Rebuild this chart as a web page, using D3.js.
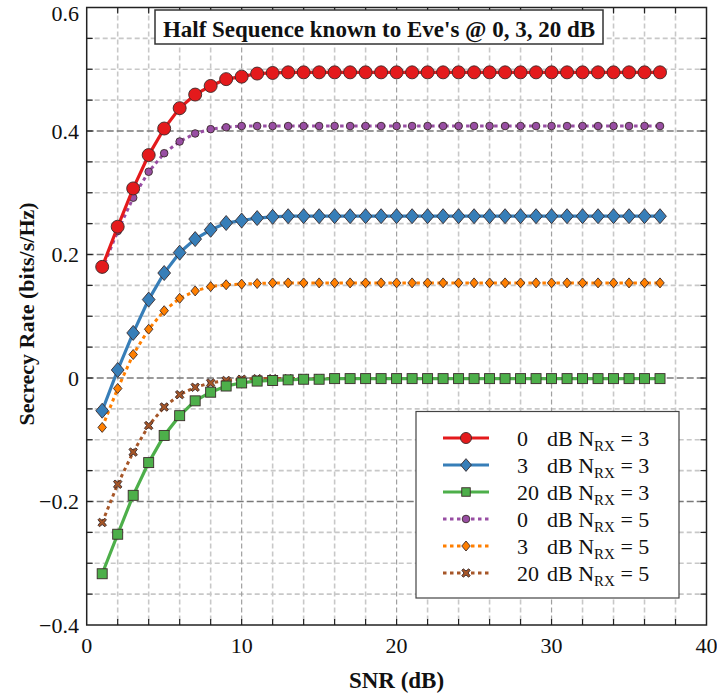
<!DOCTYPE html>
<html>
<head>
<meta charset="utf-8">
<script src="https://cdn.jsdelivr.net/npm/d3@7"></script>
<style>
  body { margin: 0; background: #fff; }
  text { font-family: "Liberation Serif", "Times New Roman", Times, "DejaVu Serif", serif; }
</style>
</head>
<body>
<div id="chart"></div>
<script>
// SNR points (dB)
const snr = d3.range(1, 38);

// tail values repeat once the curves level off
function tail(head, flat) {
  return head.concat(Array(37 - head.length).fill(flat));
}

const red0N3 = tail([0.180, 0.245, 0.307, 0.361, 0.404, 0.437, 0.459, 0.473, 0.484, 0.488, 0.493, 0.494], 0.495);
const blue3N3 = tail([-0.053, 0.013, 0.073, 0.127, 0.170, 0.203, 0.225, 0.240, 0.251, 0.255, 0.259, 0.261], 0.262);
const green20N3 = tail([-0.317, -0.253, -0.190, -0.137, -0.093, -0.061, -0.037, -0.023, -0.013, -0.008, -0.005, -0.004, -0.003, -0.002, -0.002], -0.001);
const purple0N5 = tail([0.176, 0.238, 0.292, 0.334, 0.364, 0.383, 0.396, 0.403, 0.406, 0.408], 0.408);
const orange3N5 = tail([-0.080, -0.017, 0.038, 0.079, 0.109, 0.129, 0.141, 0.148, 0.151, 0.152, 0.153], 0.154);
const brown20N5 = tail([-0.234, -0.172, -0.120, -0.077, -0.047, -0.027, -0.015, -0.008, -0.004, -0.002, -0.001], -0.001);

const xTicks = [0, 10, 20, 30, 40];
const yTicks = [-0.4, -0.2, 0, 0.2, 0.4, 0.6];

const series = [
  { num: "0",  n: 3, values: red0N3,    color: "#e41a1c", marker: "circle",  size: 6.5, dotted: false },
  { num: "3",  n: 3, values: blue3N3,   color: "#377eb8", marker: "diamond", size: 7.5, dotted: false },
  { num: "20", n: 3, values: green20N3, color: "#4daf4a", marker: "square",  size: 5,   dotted: false },
  { num: "0",  n: 5, values: purple0N5, color: "#984ea3", marker: "circle",  size: 3.8, dotted: true },
  { num: "3",  n: 5, values: orange3N5, color: "#ff7f00", marker: "diamond", size: 5,   dotted: true },
  { num: "20", n: 5, values: brown20N5, color: "#a65628", marker: "cross",   size: 4.2, dotted: true }
];

const W = 717, H = 698;
const FONT = "Liberation Serif, Times New Roman, serif";
const svg = d3.select("#chart").append("svg").attr("width", W).attr("height", H)
  .attr("font-family", FONT);

const x = d3.scaleLinear().domain([0, 40]).range([86.7, 706.5]);
const y = d3.scaleLinear().domain([-0.4, 0.6]).range([625, 7.5]);

// grid
const grid = svg.append("g");
const xMinor = d3.range(2, 40, 2).filter(v => v % 10 !== 0);
const yMinor = d3.range(-0.35, 0.6, 0.05).map(v => +v.toFixed(2)).filter(v => Math.abs(Math.round(v / 0.2) * 0.2 - v) > 1e-6);

grid.selectAll(".vmin").data(xMinor).join("line")
  .attr("x1", d => x(d)).attr("x2", d => x(d)).attr("y1", y(0.6)).attr("y2", y(-0.4))
  .attr("stroke", "#c8c8c8").attr("stroke-width", 1.6).attr("stroke-dasharray", "5,3");
grid.selectAll(".hmin").data(yMinor).join("line")
  .attr("x1", x(0)).attr("x2", x(40)).attr("y1", d => y(d)).attr("y2", d => y(d))
  .attr("stroke", "#c8c8c8").attr("stroke-width", 1.6).attr("stroke-dasharray", "5,3");
grid.selectAll(".vmaj").data([10, 20, 30]).join("line")
  .attr("x1", d => x(d)).attr("x2", d => x(d)).attr("y1", y(0.6)).attr("y2", y(-0.4))
  .attr("stroke", "#a0a0a0").attr("stroke-width", 1.2).attr("stroke-dasharray", "5,3");
grid.selectAll(".hmaj").data([-0.2, 0, 0.2, 0.4]).join("line")
  .attr("x1", x(0)).attr("x2", x(40)).attr("y1", d => y(d)).attr("y2", d => y(d))
  .attr("stroke", "#7a7a7a").attr("stroke-width", 1.5).attr("stroke-dasharray", "7,3");

// symbols
function drawMarker(g, s, cx, cy, scale) {
  const r = s.size * (scale || 1);
  let m;
  if (s.marker === "circle") {
    m = g.append("circle").attr("cx", cx).attr("cy", cy).attr("r", r);
  } else if (s.marker === "diamond") {
    m = g.append("path").attr("d", `M${cx},${cy - r}L${cx + r * 0.85},${cy}L${cx},${cy + r}L${cx - r * 0.85},${cy}Z`);
  } else if (s.marker === "square") {
    m = g.append("rect").attr("x", cx - r).attr("y", cy - r).attr("width", 2 * r).attr("height", 2 * r);
  } else {
    const a = r, b = r * 0.35;
    const pts = [[-a + b, -a], [0, -b * 1.4], [a - b, -a], [a, -a + b], [b * 1.4, 0], [a, a - b], [a - b, a], [0, b * 1.4], [-a + b, a], [-a, a - b], [-b * 1.4, 0], [-a, -a + b]];
    m = g.append("path").attr("d", "M" + pts.map(p => `${cx + p[0]},${cy + p[1]}`).join("L") + "Z");
  }
  m.attr("fill", s.color).attr("stroke", "#3a2a2a").attr("stroke-width", 0.9);
}

// lines + markers; the N=5 curves sit underneath the N=3 ones
const line = d3.line().x((d, i) => x(snr[i])).y(d => y(d));
[3, 4, 5, 0, 1, 2].map(i => series[i]).forEach(s => {
  const g = svg.append("g");
  g.append("path").datum(s.values).attr("d", line)
    .attr("fill", "none").attr("stroke", s.color)
    .attr("stroke-width", s.dotted ? 3 : 3.2)
    .attr("stroke-dasharray", s.dotted ? "3.5,3.5" : null);
  s.values.forEach((v, i) => drawMarker(g, s, x(snr[i]), y(v)));
});

// frame and ticks
const axes = svg.append("g").attr("stroke", "#222");
axes.append("rect").attr("x", x(0)).attr("y", y(0.6)).attr("width", x(40) - x(0)).attr("height", y(-0.4) - y(0.6))
  .attr("fill", "none").attr("stroke-width", 1.5);
const xt = d3.range(2, 40, 2);
const yt = d3.range(-0.35, 0.6, 0.05);
xt.forEach(v => {
  axes.append("line").attr("x1", x(v)).attr("x2", x(v)).attr("y1", y(-0.4)).attr("y2", y(-0.4) - 6).attr("stroke-width", 1.2);
  axes.append("line").attr("x1", x(v)).attr("x2", x(v)).attr("y1", y(0.6)).attr("y2", y(0.6) + 6).attr("stroke-width", 1.2);
});
yt.forEach(v => {
  axes.append("line").attr("x1", x(0)).attr("x2", x(0) + 6).attr("y1", y(v)).attr("y2", y(v)).attr("stroke-width", 1.2);
  axes.append("line").attr("x1", x(40)).attr("x2", x(40) - 6).attr("y1", y(v)).attr("y2", y(v)).attr("stroke-width", 1.2);
});

// tick labels
const fmtY = d => d === 0 ? "0" : (d < 0 ? "\u2212" : "") + Math.abs(d).toFixed(1);
svg.append("g").selectAll("text").data(xTicks).join("text")
  .attr("x", d => x(d)).attr("y", 653).attr("text-anchor", "middle").attr("font-family", FONT)
  .attr("font-size", 22).attr("fill", "#111").text(d => d);
svg.append("g").selectAll("text").data(yTicks).join("text")
  .attr("x", 79).attr("y", d => d === 0.6 ? 21 : y(d) + 7.5).attr("text-anchor", "end").attr("font-family", FONT)
  .attr("font-size", 22).attr("fill", "#111").text(fmtY);

// axis titles
svg.append("text").attr("x", 396.5).attr("y", 688).attr("text-anchor", "middle").attr("font-family", FONT)
  .attr("font-size", 23).attr("font-weight", "bold").attr("fill", "#111").text("SNR (dB)");
svg.append("text").attr("transform", `translate(34,314) rotate(-90)`).attr("font-family", FONT)
  .attr("text-anchor", "middle").attr("font-size", 22).attr("font-weight", "bold").attr("fill", "#111")
  .text("Secrecy Rate (bits/s/Hz)");

// title box
const title = svg.append("g");
title.append("rect").attr("x", 155).attr("y", 10).attr("width", 448).attr("height", 34)
  .attr("fill", "#fff").attr("stroke", "#333").attr("stroke-width", 1.5);
title.append("text").attr("x", 379).attr("y", 37).attr("text-anchor", "middle").attr("font-family", FONT)
  .attr("font-size", 23).attr("font-weight", "bold").attr("fill", "#111")
  .text("Half Sequence known to Eve's @ 0, 3, 20 dB");

// legend
const lg = svg.append("g");
lg.append("rect").attr("x", 416).attr("y", 411.5).attr("width", 263).attr("height", 186.5)
  .attr("fill", "#fff").attr("stroke", "#444").attr("stroke-width", 1.2);
series.forEach((s, i) => {
  const cy = 438 + i * 27;
  lg.append("line").attr("x1", 443).attr("x2", 489).attr("y1", cy).attr("y2", cy)
    .attr("stroke", s.color).attr("stroke-width", 3)
    .attr("stroke-dasharray", s.dotted ? "3.5,3.5" : null);
  drawMarker(lg, s, 466, cy, s.dotted ? 1 : 0.85);
  lg.append("text").attr("x", 517).attr("y", cy + 8).attr("font-family", FONT)
    .attr("font-size", 22).attr("fill", "#111").text(s.num);
  const t = lg.append("text").attr("x", 547).attr("y", cy + 8).attr("font-family", FONT)
    .attr("font-size", 22).attr("fill", "#111");
  t.append("tspan").text("dB N");
  t.append("tspan").attr("font-size", 15).attr("dy", 5).text("RX");
  t.append("tspan").attr("dy", -5).text(" = " + s.n);
});
</script>
</body>
</html>
